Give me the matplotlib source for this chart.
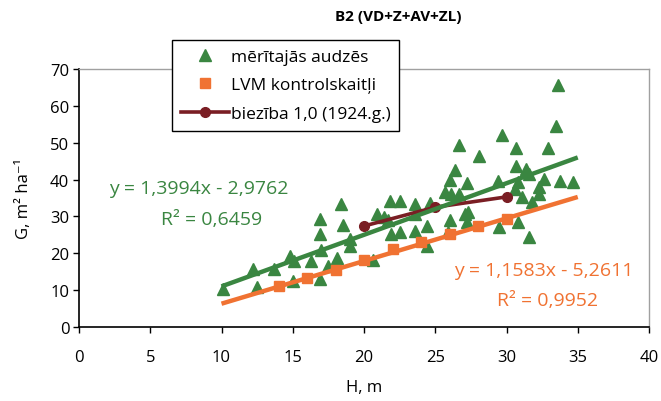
import matplotlib
matplotlib.use("Agg")
import matplotlib.pyplot as plt
import numpy as np

plt.rcParams['font.family'] = ['Open Sans', 'DejaVu Sans']

# measured stands (mērītajās audzēs)
meas_h = [10.1, 12.2, 12.5, 13.7, 14.8, 15.1, 15.0, 16.3, 16.9, 16.9, 17.0, 16.9, 17.5, 18.1,
          18.4, 18.5, 19.0, 19.0, 20.6, 20.9, 21.4, 21.7, 21.8, 22.5, 21.9, 22.5, 23.6, 23.6,
          23.6, 24.4, 24.4, 24.6, 25.7, 25.9, 26.0, 26.0, 26.1, 26.4, 26.7, 26.7, 27.2, 27.1,
          27.2, 27.3, 28.1, 29.4, 29.5, 29.7, 30.6, 30.7, 30.7, 30.8, 30.8, 31.1, 31.4, 31.6,
          31.6, 31.8, 32.3, 32.3, 32.6, 32.9, 33.5, 33.6, 33.75, 34.7]
meas_g = [10.3, 15.8, 10.8, 15.8, 19.3, 18.0, 12.6, 18.0, 29.3, 25.2, 20.8, 13.0, 16.6, 18.6,
          33.4, 27.7, 23.9, 22.1, 18.2, 30.7, 29.8, 29.0, 34.3, 34.3, 25.2, 25.7, 33.4, 30.7,
          26.1, 27.5, 22.1, 33.6, 36.5, 25.7, 29.0, 39.9, 36.1, 42.6, 49.4, 36.1, 39.0, 30.7,
          28.6, 31.1, 46.3, 39.5, 27.0, 52.2, 37.4, 48.7, 43.8, 39.3, 28.4, 35.2, 42.9, 41.5,
          24.4, 33.8, 37.9, 36.1, 40.2, 48.7, 54.6, 65.7, 39.7, 39.3]

# LVM kontrolskaitļi
lvm_h = [14, 16, 18, 20, 22, 24, 26, 28, 30]
lvm_g = [11.1, 13.4, 15.4, 18.2, 21.2, 23.1, 25.1, 27.4, 29.3]

# biezība 1,0 (1924.g.)
bz_h = [20, 25, 30]
bz_g = [27.4, 32.5, 35.3]

# trend lines (from equations on chart)
green_coef = (1.3994, -2.9762)
orange_coef = (1.1583, -5.2611)
trend_range = (10, 35)

GREEN = '#3a8641'
ORANGE = '#f07232'
BROWN = '#7a1e24'

FS = 12

fig = plt.figure(figsize=(6.61, 4.02), dpi=100)
ax = fig.add_axes([79/661, 1-328/402, (649-79)/661, (328-70)/402])

ax.plot(meas_h, meas_g, linestyle='none', marker='^', ms=9, color=GREEN, mec=GREEN,
        label='mērītajās audzēs', zorder=3)
ax.plot(lvm_h, lvm_g, linestyle='none', marker='s', ms=6.5, color=ORANGE, mec=ORANGE,
        label='LVM kontrolskaitļi', zorder=3)
ax.plot(bz_h, bz_g, '-', color=BROWN, lw=2.6, marker='o', ms=7,
        label='biezība 1,0 (1924.g.)', zorder=4)

xt = np.array(trend_range)
ax.plot(xt, green_coef[0]*xt + green_coef[1], color=GREEN, lw=3.2, zorder=5,
        solid_capstyle='butt')
ax.plot(xt, orange_coef[0]*xt + orange_coef[1], color=ORANGE, lw=3.2, zorder=5,
        solid_capstyle='butt')

ax.set_xlim(0, 40)
ax.set_ylim(0, 70)
ax.set_xticks(range(0, 41, 5))
ax.set_yticks(range(0, 71, 10))
ax.tick_params(axis='both', labelsize=FS, direction='out', length=4, width=1, color='black')
ax.tick_params(axis='x', pad=12)
ax.tick_params(axis='y', pad=3)
for s in ['left', 'bottom']:
    ax.spines[s].set_color('black')
    ax.spines[s].set_linewidth(1.2)
for s in ['top', 'right']:
    ax.spines[s].set_color('#a0a0a0')
    ax.spines[s].set_linewidth(1.0)

ax.set_xlabel('H, m', fontsize=FS, labelpad=10)
ax.set_ylabel('G, m² ha⁻¹', fontsize=FS, labelpad=13)

fig.text(398/661, 1-17/402, 'B2 (VD+Z+AV+ZL)', ha='center', va='center',
         fontsize=11, fontweight='bold')

EQ = 14
ax.text(199/661, 1-189/402, 'y = 1,3994x - 2,9762', transform=fig.transFigure,
        ha='center', va='center', color=GREEN, fontsize=EQ)
ax.text(212/661, 1-220/402, 'R² = 0,6459', transform=fig.transFigure,
        ha='center', va='center', color=GREEN, fontsize=EQ)
ax.text(633/661, 1-271/402, 'y = 1,1583x - 5,2611', transform=fig.transFigure,
        ha='right', va='center', color=ORANGE, fontsize=EQ)
ax.text(598/661, 1-301/402, 'R² = 0,9952', transform=fig.transFigure,
        ha='right', va='center', color=ORANGE, fontsize=EQ)

leg = ax.legend(loc='upper left', bbox_to_anchor=(172/661, 1-41/402),
                bbox_transform=fig.transFigure, fontsize=12.5, frameon=True,
                fancybox=False, edgecolor='black', framealpha=1, labelspacing=0.72,
                handlelength=2.8, handletextpad=0.1, borderpad=0.5, borderaxespad=0)
leg.get_frame().set_linewidth(1.0)
leg.set_zorder(10)

fig.savefig('out.png', dpi=100)
